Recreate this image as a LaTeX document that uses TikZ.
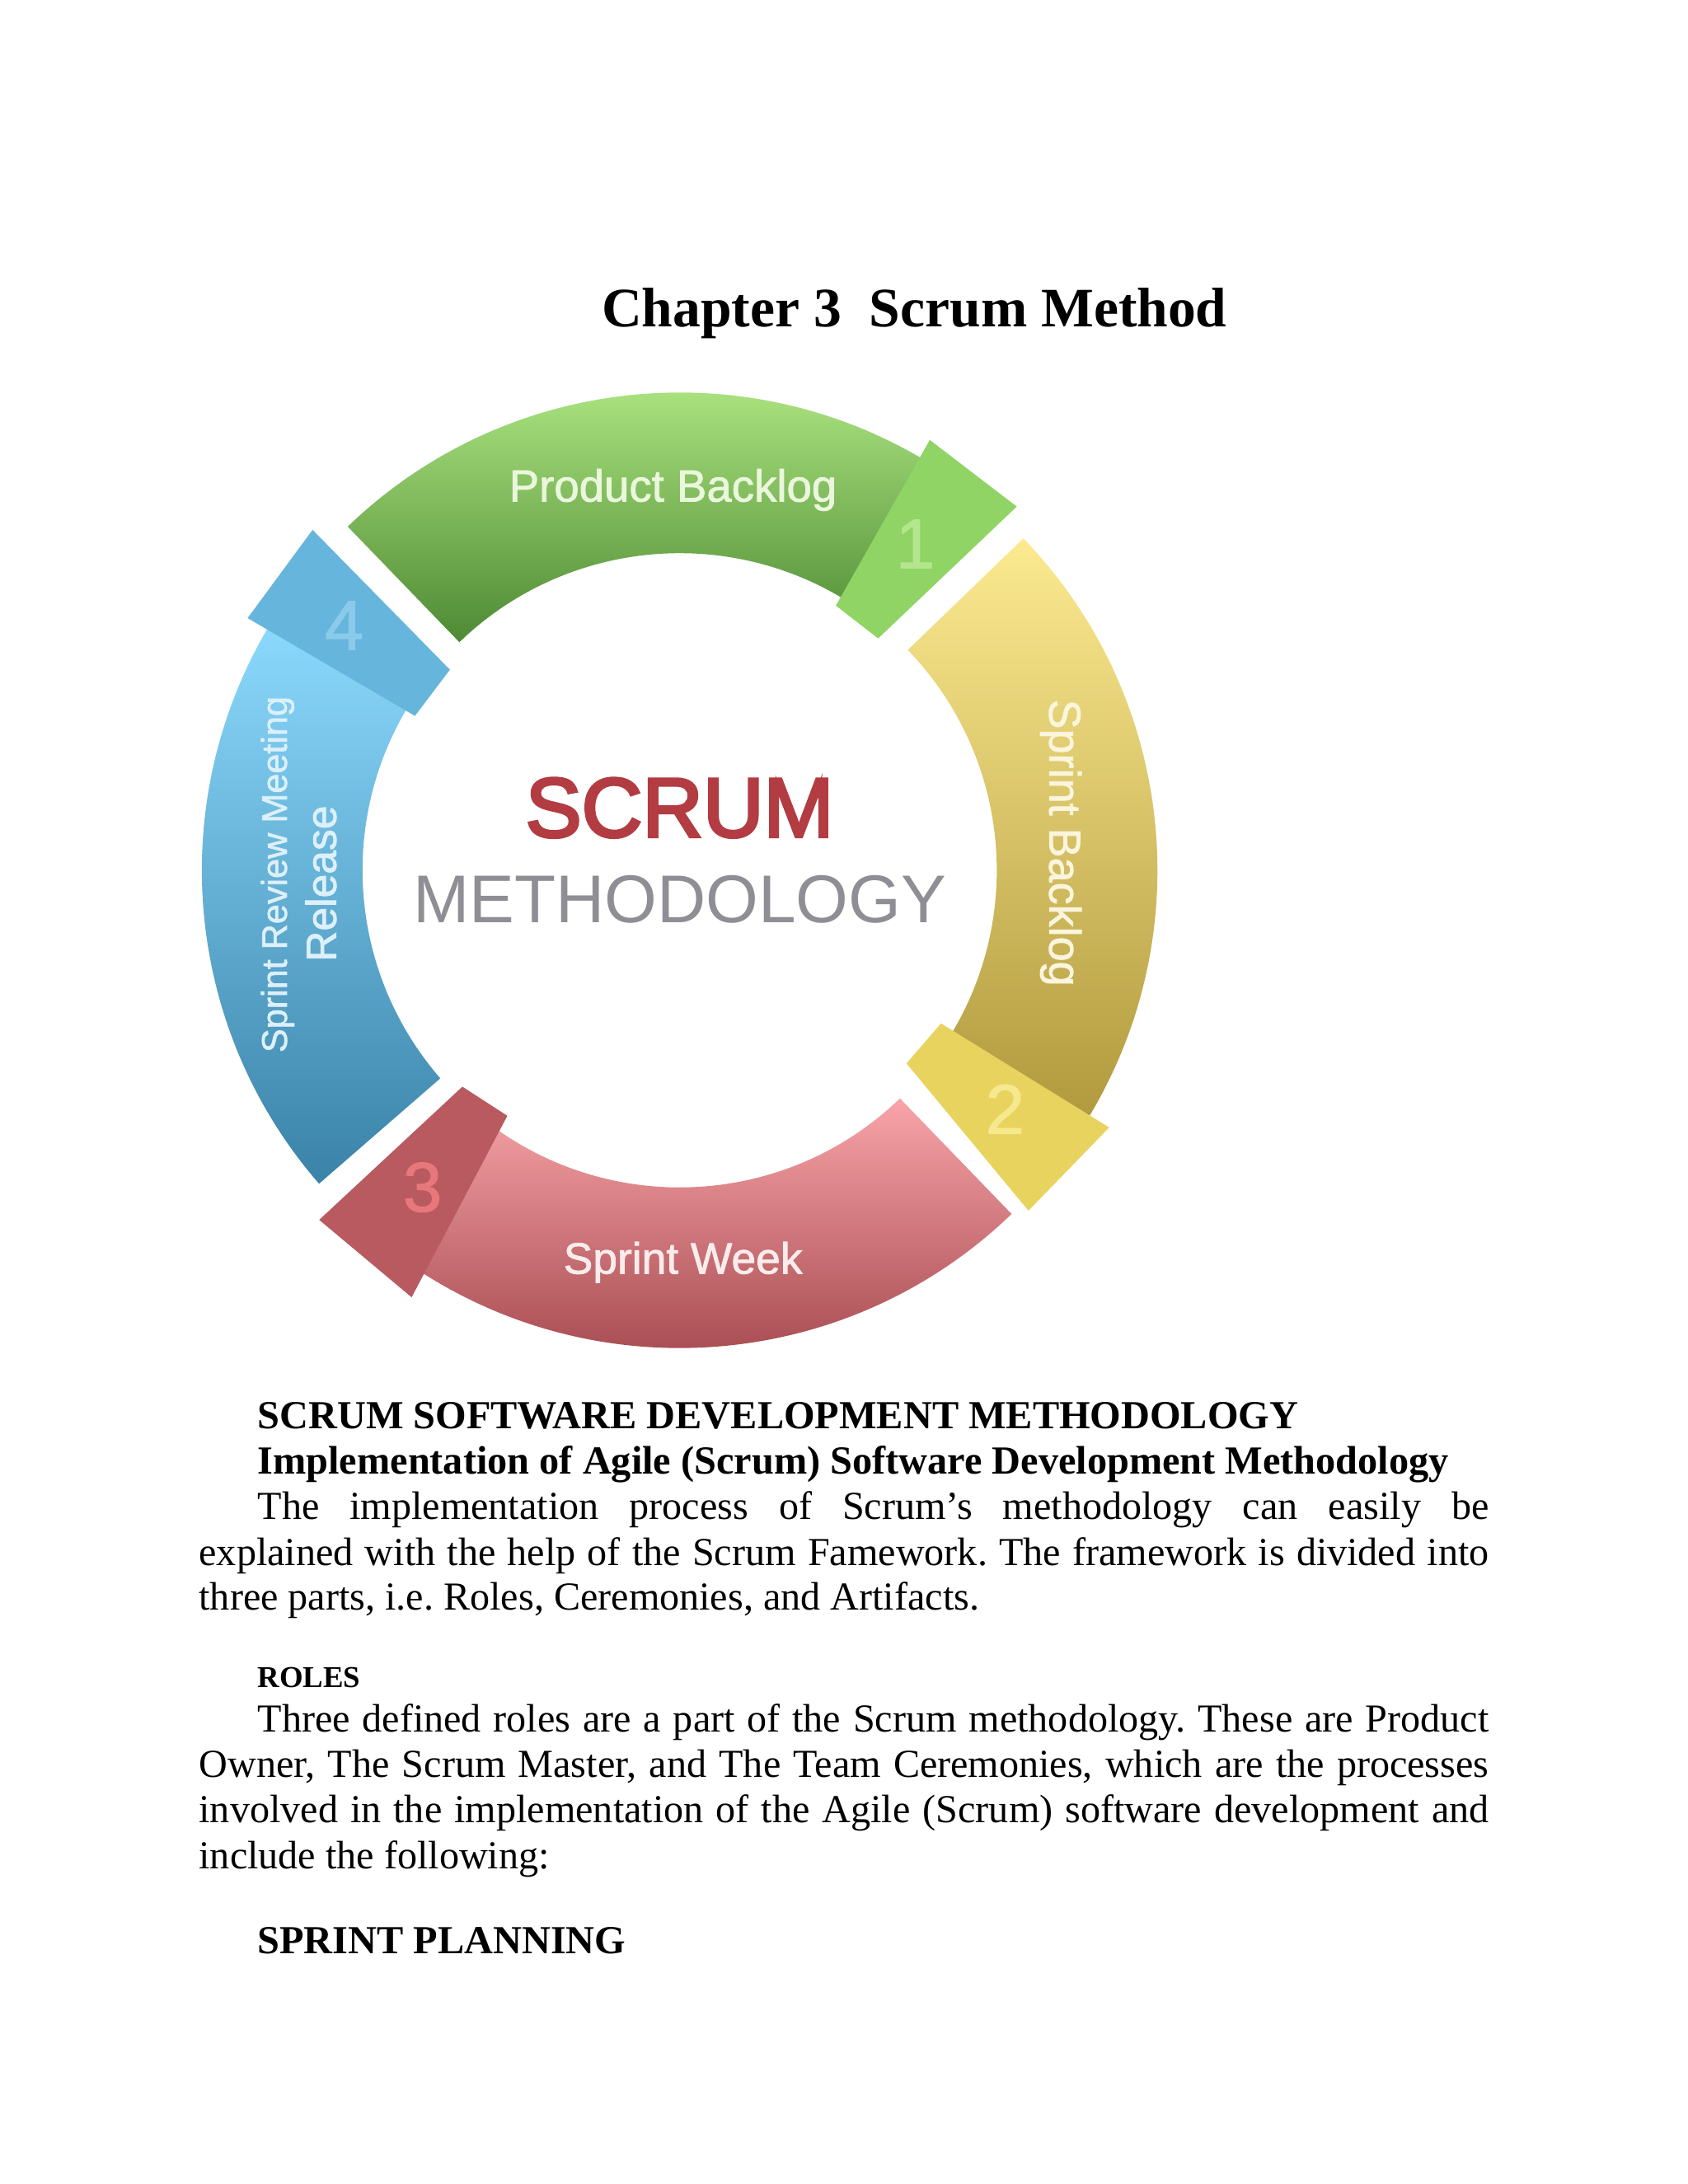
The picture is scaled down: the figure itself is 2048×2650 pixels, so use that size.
\documentclass[tikz,border=0pt]{standalone}
\usepackage{fontspec}
\setmainfont{Liberation Serif}
\newfontfamily\ringfont[FakeBold=1.5]{Liberation Sans}
\newfontfamily\ringplain{Liberation Sans}
\newfontfamily\ringbold[FakeBold=3.5]{Liberation Sans}
\newcommand{\fs}[1]{\fontsize{#1}{#1}\selectfont}
\newcommand{\band}[5]{\shade[top color=#3,middle color=#4,bottom color=#5] (#1:574) arc[start angle=#1,end angle=#2,radius=574] -- (#2:381) arc[start angle=#2,end angle=#1,radius=381] -- cycle;}
\definecolor{gT}{HTML}{B8F08A}\definecolor{gM}{HTML}{7FBC5B}\definecolor{gB}{HTML}{4E8A34}\definecolor{gTab}{HTML}{8FD465}\definecolor{gNum}{HTML}{B4E68E}\definecolor{gTxt}{HTML}{EAF7DC}
\definecolor{yT}{HTML}{FCEA90}\definecolor{yM}{HTML}{D2BC5E}\definecolor{yB}{HTML}{B0983C}\definecolor{yTab}{HTML}{E9D35F}\definecolor{yNum}{HTML}{F6E88E}\definecolor{yTxt}{HTML}{FAF5DC}
\definecolor{rT}{HTML}{F8A4A8}\definecolor{rM}{HTML}{E0646A}\definecolor{rB}{HTML}{9C4046}\definecolor{rTab}{HTML}{B85A60}\definecolor{rNum}{HTML}{E8777C}\definecolor{rTxt}{HTML}{FBECEC}
\definecolor{bT}{HTML}{8CDAFE}\definecolor{bM}{HTML}{4FA6D4}\definecolor{bB}{HTML}{3A82A8}\definecolor{bTab}{HTML}{66B5DC}\definecolor{bNum}{HTML}{8ACAEA}\definecolor{bTxt}{HTML}{DCF0FA}
\definecolor{scrumred}{HTML}{B23C42}\definecolor{methgray}{HTML}{8E8E94}
\tikzset{
  every node/.style={inner sep=0pt,outer sep=0pt},
  numlabel/.style={font=\ringfont\fs{42.5}},
  line/.style={anchor=base west,font=\fs{24.07}},
  boldline/.style={anchor=base west,font=\bfseries\fs{24.15}},
}
\newcommand{\just}[2]{\hbox to #1{#2}}
\frenchspacing
\begin{document}
\begin{tikzpicture}[x=0.5pt,y=0.5pt]
\useasboundingbox (0,0) rectangle (2048,2650);
\fill[white] (0,0) rectangle (2048,2650);
\begin{scope}[shift={(824.6,1594)},scale=1.0099]
\band{134}{57}{gT}{gM}{gB}
\band{44}{-33}{yT}{yM}{yB}
\band{-46}{-127}{rT}{rM}{rB}
\band{221}{148}{bT}{bM}{bB}
\fill[gTab] (300.5,517) -- (405,437) -- (238.5,278.6) -- (187.7,318) -- cycle;
\fill[yTab] (314,-184) -- (516,-309) -- (419,-409) -- (272.5,-232) -- cycle;
\fill[rTab] (-261,-260) -- (-207,-295) -- (-322,-513) -- (-433,-420) -- cycle;
\fill[bTab] (-441,409) -- (-276,241) -- (-318,185.5) -- (-519,303) -- cycle;
\node[numlabel,text=gNum] (n1) at (283,392) {1};
\node[numlabel,text=yNum] (n2) at (391,-287) {2};
\node[numlabel,text=rNum] (n3) at (-309,-381) {3};
\node[numlabel,text=bNum] (n4) at (-403,294) {4};
\node[text=gTxt,font=\ringfont\fs{27.3}] (pb) at (-8,457) {Product Backlog};
\node[text=yTxt,font=\ringfont\fs{27},rotate=-90] (sb) at (458,33) {Sprint Backlog};
\node[text=rTxt,font=\ringfont\fs{26.7}] (sw) at (4,-471) {Sprint Week};
\node[text=bTxt,font=\ringfont\fs{21.6},rotate=90] (srm) at (-483,-5) {Sprint Review Meeting};
\node[text=bTxt,font=\ringfont\fs{25.8},rotate=90] (rel) at (-431,-16) {Release};
\node[text=scrumred,font=\ringbold\fs{51}] (scrum) at (0,75) {SCRUM};
\node[text=methgray,font=\ringplain\fs{41}] (meth) at (0,-35) {METHODOLOGY};
\end{scope}
\node[anchor=base west,font=\bfseries\fs{33.8}] (title) at (730,2253) {Chapter 3\ \ Scrum Method};
\node[boldline] (h1) at (312.6,916.3) {SCRUM SOFTWARE DEVELOPMENT METHODOLOGY};
\node[boldline] (h2) at (312.6,861.5) {Implementation of Agile (Scrum) Software Development Methodology};
\node[line] (l1) at (312.6,806.4) {\just{746.9pt}{The implementation process of Scrum’s methodology can easily be}};
\node[line] (l2) at (241.6,750.7) {\just{782.4pt}{explained with the help of the Scrum Famework. The framework is divided into}};
\node[line] (l3) at (241.6,696.6) {three parts, i.e. Roles, Ceremonies, and Artifacts.};
\node[anchor=base west,font=\bfseries\fs{18.4}] (h3) at (312.6,602) {ROLES};
\node[line] (l4) at (312.6,548) {\just{746.9pt}{Three defined roles are a part of the Scrum methodology. These are Product}};
\node[line] (l5) at (241.6,493) {\just{782.4pt}{Owner, The Scrum Master, and The Team Ceremonies, which are the processes}};
\node[line] (l6) at (241.6,438) {\just{782.4pt}{involved in the implementation of the Agile (Scrum) software development and}};
\node[line] (l7) at (241.6,382.3) {include the following:};
\node[boldline] (h4) at (312.6,279.2) {SPRINT PLANNING};
\end{tikzpicture}
\end{document}
